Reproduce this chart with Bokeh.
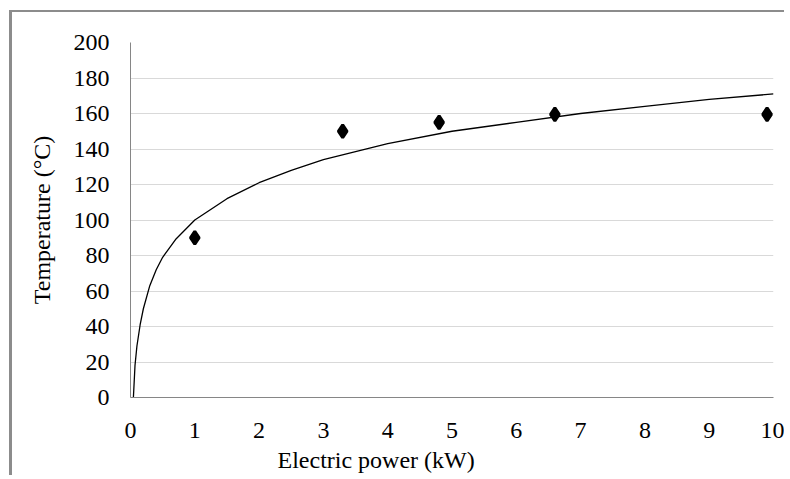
from bokeh.plotting import figure
from bokeh.embed import file_html
from bokeh.resources import INLINE
from bokeh.models import Range1d, FixedTicker, Title

# measured points
power_kw = [1.0, 3.3, 4.8, 6.6, 9.9]
temperature_c = [90, 150, 155, 159.5, 159.5]

# trend curve
trend_x = [0.045, 0.07, 0.1, 0.15, 0.2, 0.3, 0.4, 0.5, 0.7, 1.0, 1.5, 2.0, 2.5, 3.0, 4.0, 5.0, 6.0, 7.0, 8.0, 9.0, 10.0]
trend_y = [0, 18, 29, 41, 50, 63, 72, 79, 89, 100, 112, 121, 128, 134, 143, 150, 155, 160, 164, 168, 171]

x_ticks = [0, 1, 2, 3, 4, 5, 6, 7, 8, 9, 10]
y_ticks = [0, 20, 40, 60, 80, 100, 120, 140, 160, 180, 200]

x_title = "Electric power (kW)"
y_title = "Temperature (°C)"

FONT = "'Liberation Serif', 'Times New Roman', serif"

p = figure(width=775, height=465, output_backend="svg", toolbar_location=None,
           x_range=Range1d(0, 10), y_range=Range1d(0, 200),
           min_border_left=118, min_border_right=14, min_border_top=30, min_border_bottom=0)
p.styles = {"border-left": "3px solid #8c8c8c", "border-top": "2px solid #8c8c8c",
            "margin-left": "9px", "margin-top": "10px"}
p.outline_line_color = None
p.background_fill_color = "white"
p.border_fill_color = "white"

p.line(trend_x, trend_y, line_color="black", line_width=1.3)
p.scatter(power_kw, temperature_c, marker="diamond", size=13, fill_color="black",
          line_color="black", line_width=3)

p.xaxis.ticker = FixedTicker(ticks=x_ticks)
p.yaxis.ticker = FixedTicker(ticks=y_ticks)
p.xgrid.grid_line_color = None
p.ygrid.grid_line_color = "#d9d9d9"
p.ygrid.grid_line_width = 1

for ax in (p.xaxis[0], p.yaxis[0]):
    ax.axis_line_color = "#868686"
    ax.axis_line_width = 1
    ax.major_tick_line_color = None
    ax.minor_tick_line_color = None
    ax.major_label_text_font = FONT
    ax.major_label_text_font_size = "24px"
    ax.major_label_text_color = "black"
    ax.axis_label_text_font = FONT
    ax.axis_label_text_font_size = "24px"
    ax.axis_label_text_font_style = "normal"
    ax.axis_label_text_color = "black"

p.yaxis.axis_label = y_title
p.xaxis.major_label_standoff = 19
p.yaxis.major_label_standoff = 15
p.yaxis.axis_label_standoff = 16

p.add_layout(Title(text=x_title, align="left", offset=147, standoff=9,
                   text_font=FONT, text_font_size="24px", text_font_style="normal",
                   text_color="black"), "below")

open("out.html", "w").write(file_html(p, INLINE))
